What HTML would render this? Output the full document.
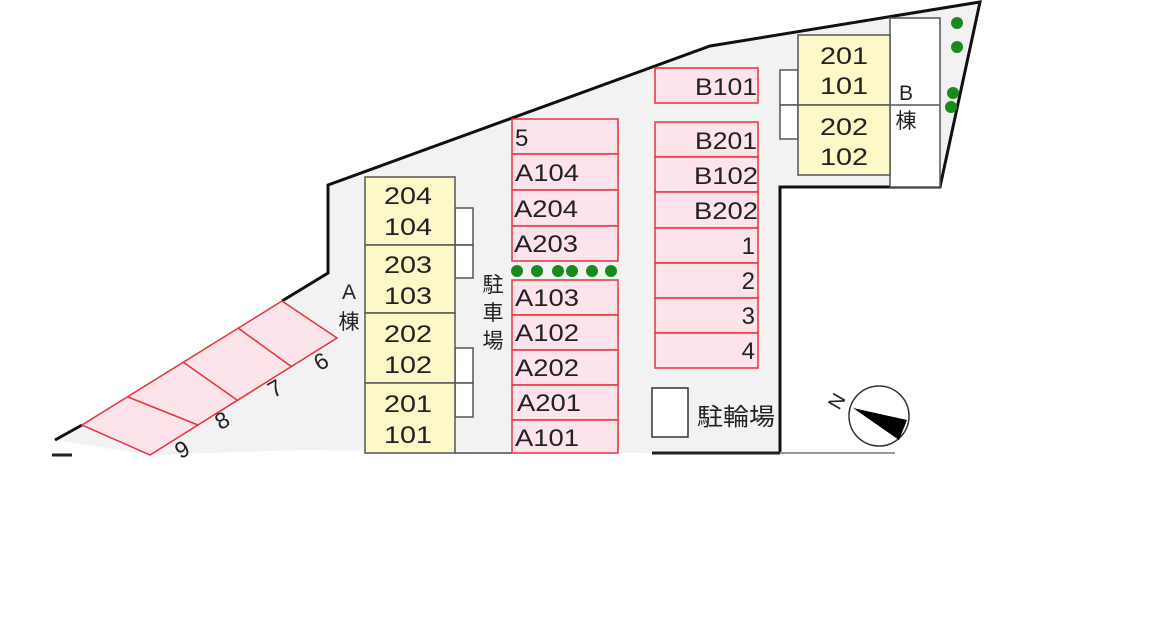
<!DOCTYPE html>
<html><head><meta charset="utf-8"><style>
html,body{margin:0;padding:0;background:#fff;width:1150px;height:643px;overflow:hidden}
svg{display:block}
text{font-family:"Liberation Sans","Noto Sans CJK JP",sans-serif;fill:#222}
</style></head><body>
<svg width="1150" height="643" viewBox="0 0 1150 643" xmlns="http://www.w3.org/2000/svg">
<polygon points="55,440 328,273 328,185 710,46 980,2 940,187 780,187 780,453 895,453 652,453 300,450 150,455" fill="#f2f2f2"/>
<polyline points="55,440 82,425" fill="none" stroke="#111" stroke-width="3"/>
<polyline points="282,301 328,273 328,185 710,46 980,2 940,187 780,187 780,453" fill="none" stroke="#111" stroke-width="3"/>
<line x1="652" y1="453" x2="780" y2="453" stroke="#222" stroke-width="3"/>
<line x1="780" y1="453" x2="895" y2="453" stroke="#999" stroke-width="2"/>
<line x1="455" y1="453" x2="512" y2="453" stroke="#777" stroke-width="2"/>
<line x1="52" y1="455" x2="72" y2="455" stroke="#222" stroke-width="3"/>
<polygon points="82,425 282,301 337,338 150,455" fill="#fde3ea" stroke="#e8323c" stroke-width="1.5"/>
<line x1="128" y1="397" x2="198" y2="425" stroke="#e8323c" stroke-width="1.5"/>
<line x1="183" y1="362" x2="237" y2="400" stroke="#e8323c" stroke-width="1.5"/>
<line x1="238" y1="328" x2="292" y2="367" stroke="#e8323c" stroke-width="1.5"/>
<g font-size="23">
<text transform="translate(322,363) rotate(-30)" text-anchor="middle" dominant-baseline="middle">6</text>
<text transform="translate(276,390) rotate(-30)" text-anchor="middle" dominant-baseline="middle">7</text>
<text transform="translate(223,422) rotate(-30)" text-anchor="middle" dominant-baseline="middle">8</text>
<text transform="translate(183,451) rotate(-30)" text-anchor="middle" dominant-baseline="middle">9</text>
</g>
<g stroke="#555" stroke-width="1.5">
<rect x="455" y="208" width="18" height="37" fill="#fff"/>
<rect x="455" y="245" width="18" height="33" fill="#fff"/>
<rect x="455" y="348" width="18" height="35" fill="#fff"/>
<rect x="455" y="383" width="18" height="34" fill="#fff"/>
<rect x="365" y="177" width="90" height="68" fill="#fdf8c8"/>
<rect x="365" y="245" width="90" height="68" fill="#fdf8c8"/>
<rect x="365" y="313" width="90" height="70" fill="#fdf8c8"/>
<rect x="365" y="383" width="90" height="70" fill="#fdf8c8"/>
</g>
<g font-size="24" text-anchor="middle">
<text x="408" y="204" textLength="48" lengthAdjust="spacingAndGlyphs">204</text><text x="408" y="235" textLength="48" lengthAdjust="spacingAndGlyphs">104</text>
<text x="408" y="273" textLength="48" lengthAdjust="spacingAndGlyphs">203</text><text x="408" y="304" textLength="48" lengthAdjust="spacingAndGlyphs">103</text>
<text x="408" y="342" textLength="48" lengthAdjust="spacingAndGlyphs">202</text><text x="408" y="373" textLength="48" lengthAdjust="spacingAndGlyphs">102</text>
<text x="408" y="412" textLength="48" lengthAdjust="spacingAndGlyphs">201</text><text x="408" y="443" textLength="48" lengthAdjust="spacingAndGlyphs">101</text>
</g>
<g font-size="21" text-anchor="middle">
<text x="349" y="299">A</text><text x="349" y="329">棟</text>
<text x="493" y="292">駐</text><text x="493" y="320">車</text><text x="493" y="348">場</text>
</g>
<g fill="#fde3ea" stroke="#e8323c" stroke-width="1.5">
<rect x="512" y="119" width="106" height="35"/>
<rect x="512" y="154" width="106" height="36"/>
<rect x="512" y="190" width="106" height="36"/>
<rect x="512" y="226" width="106" height="35"/>
<rect x="512" y="280" width="106" height="35"/>
<rect x="512" y="315" width="106" height="35"/>
<rect x="512" y="350" width="106" height="35"/>
<rect x="512" y="385" width="106" height="35"/>
<rect x="512" y="420" width="106" height="33"/>
</g>
<g fill="#1a8a1a">
<circle cx="517" cy="271" r="6"/><circle cx="537" cy="271" r="6"/><circle cx="558" cy="271" r="6"/>
<circle cx="572" cy="271" r="6"/><circle cx="592" cy="271" r="6"/><circle cx="611" cy="271" r="6"/>
</g>
<g font-size="24">
<text x="515" y="146">5</text>
<text x="515" y="181" textLength="64" lengthAdjust="spacingAndGlyphs">A104</text>
<text x="514" y="217" textLength="64" lengthAdjust="spacingAndGlyphs">A204</text>
<text x="514" y="252" textLength="64" lengthAdjust="spacingAndGlyphs">A203</text>
<text x="515" y="306" textLength="64" lengthAdjust="spacingAndGlyphs">A103</text>
<text x="515" y="341" textLength="64" lengthAdjust="spacingAndGlyphs">A102</text>
<text x="515" y="376" textLength="64" lengthAdjust="spacingAndGlyphs">A202</text>
<text x="517" y="411" textLength="64" lengthAdjust="spacingAndGlyphs">A201</text>
<text x="515" y="446" textLength="64" lengthAdjust="spacingAndGlyphs">A101</text>
</g>
<g fill="#fde3ea" stroke="#e8323c" stroke-width="1.5">
<rect x="655" y="68" width="103" height="35"/>
<rect x="655" y="122" width="103" height="35"/>
<rect x="655" y="157" width="103" height="35"/>
<rect x="655" y="192" width="103" height="36"/>
<rect x="655" y="228" width="103" height="35"/>
<rect x="655" y="263" width="103" height="35"/>
<rect x="655" y="298" width="103" height="35"/>
<rect x="655" y="333" width="103" height="35"/>
</g>
<g font-size="24">
<text x="695" y="95" textLength="62" lengthAdjust="spacingAndGlyphs">B101</text>
<text x="695" y="149" textLength="62" lengthAdjust="spacingAndGlyphs">B201</text>
<text x="694" y="184" textLength="64" lengthAdjust="spacingAndGlyphs">B102</text>
<text x="694" y="219" textLength="64" lengthAdjust="spacingAndGlyphs">B202</text>
</g>
<g font-size="24" text-anchor="end">
<text x="755" y="254">1</text><text x="755" y="289">2</text><text x="755" y="324">3</text><text x="755" y="359">4</text>
</g>
<g stroke="#555" stroke-width="1.5">
<rect x="890" y="18" width="50" height="169" fill="#fff"/>
<line x1="890" y1="105" x2="940" y2="105"/>
<rect x="780" y="70" width="18" height="35" fill="#fff"/>
<rect x="780" y="105" width="18" height="34" fill="#fff"/>
<rect x="798" y="35" width="92" height="70" fill="#fdf8c8"/>
<rect x="798" y="105" width="92" height="70" fill="#fdf8c8"/>
</g>
<g font-size="24" text-anchor="middle">
<text x="844" y="64" textLength="48" lengthAdjust="spacingAndGlyphs">201</text><text x="844" y="94" textLength="48" lengthAdjust="spacingAndGlyphs">101</text>
<text x="844" y="135" textLength="48" lengthAdjust="spacingAndGlyphs">202</text><text x="844" y="165" textLength="48" lengthAdjust="spacingAndGlyphs">102</text>
</g>
<g font-size="21" text-anchor="middle"><text x="906" y="100">B</text><text x="906" y="128">棟</text></g>
<g fill="#1a8a1a">
<circle cx="957" cy="23" r="6"/><circle cx="957" cy="47" r="6"/><circle cx="953" cy="93" r="6"/><circle cx="951" cy="107" r="6"/>
</g>
<rect x="652" y="388" width="36" height="49" fill="#fff" stroke="#333" stroke-width="1.5"/>
<text x="697" y="425" font-size="24" textLength="78" lengthAdjust="spacingAndGlyphs">駐輪場</text>
<circle cx="879" cy="416" r="30" fill="#fff" stroke="#333" stroke-width="1.5"/>
<polygon points="853,408 907,420 899,440" fill="#000"/>
<text transform="translate(838,402) rotate(-60)" font-size="20" text-anchor="middle" dominant-baseline="middle">N</text>
</svg>
</body></html>
